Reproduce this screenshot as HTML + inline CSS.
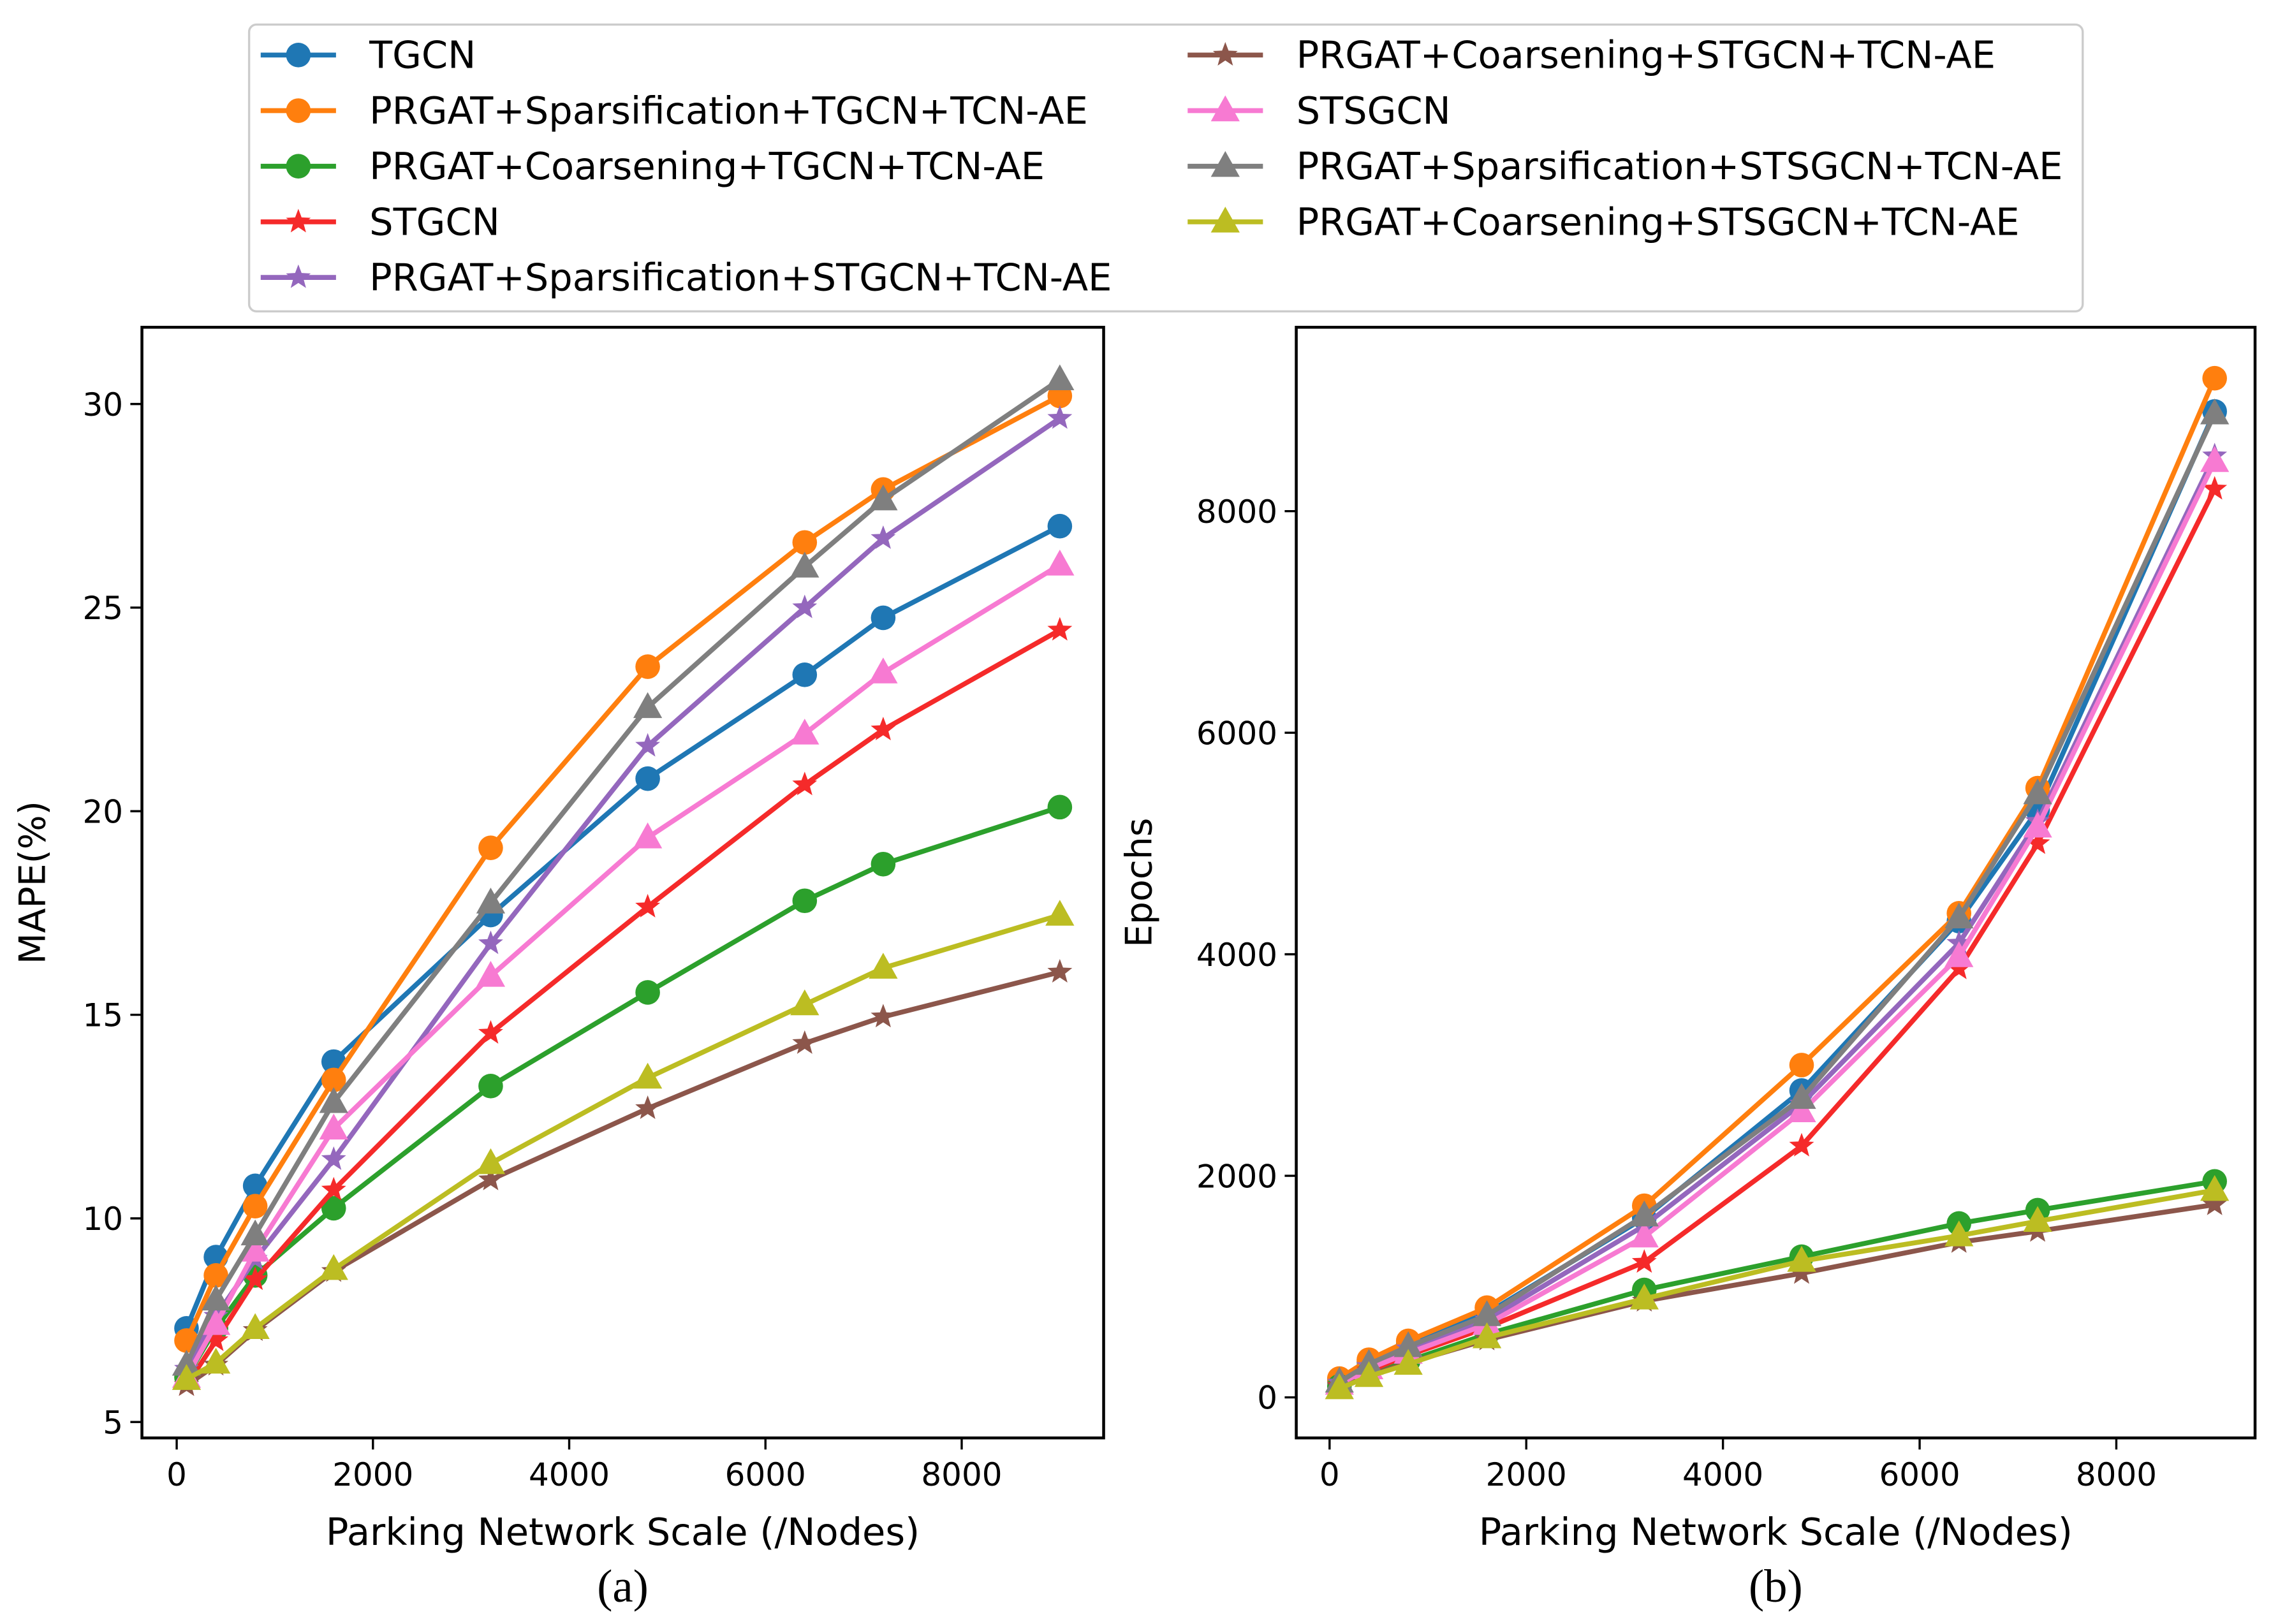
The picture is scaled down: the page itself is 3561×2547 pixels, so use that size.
<!DOCTYPE html>
<html><head><meta charset="utf-8"><style>
html,body{margin:0;padding:0;background:#fff}
svg{display:block}
text{font-family:"DejaVu Sans","Liberation Sans",sans-serif;fill:#000}
text.serif{font-family:"Liberation Serif",serif}
</style></head><body>
<svg id="chart" width="3561" height="2547" viewBox="0 0 1568 1121.5" preserveAspectRatio="none" xmlns="http://www.w3.org/2000/svg"></svg>
<script>
const xs = [100,400,800,1600,3200,4800,6400,7200,9000];
const seriesNames = ["TGCN","PRGAT+Sparsification+TGCN+TCN-AE","PRGAT+Coarsening+TGCN+TCN-AE","STGCN","PRGAT+Sparsification+STGCN+TCN-AE","PRGAT+Coarsening+STGCN+TCN-AE","STSGCN","PRGAT+Sparsification+STSGCN+TCN-AE","PRGAT+Coarsening+STSGCN+TCN-AE"];
const colors = ["#1f77b4","#ff7f0e","#2ca02c","#f52a2a","#9467bd","#8c564b","#f77ad2","#7f7f7f","#bcbd22"];
const markers = ["o","o","o","*","*","*","^","^","^"];
const mape = [
 [7.3,9.05,10.8,13.85,17.45,20.8,23.35,24.75,27.0],
 [7.0,8.6,10.3,13.4,19.1,23.55,26.6,27.9,30.2],
 [6.1,7.3,8.6,10.25,13.25,15.55,17.8,18.7,20.1],
 [5.9,7.0,8.5,10.7,14.55,17.65,20.65,22.0,24.45],
 [6.3,7.6,9.0,11.45,16.75,21.6,25.0,26.7,29.65],
 [5.9,6.4,7.25,8.7,10.95,12.7,14.3,14.95,16.05],
 [6.1,7.4,9.2,12.2,15.95,19.35,21.9,23.4,26.05],
 [6.4,8.0,9.6,12.85,17.75,22.55,26.0,27.65,30.6],
 [6.05,6.45,7.3,8.75,11.35,13.45,15.25,16.15,17.45]
];
const epochs = [
 [150,320,480,760,1620,2770,4300,5300,8900],
 [170,340,510,810,1730,3000,4370,5500,9200],
 [100,220,330,570,970,1270,1570,1690,1950],
 [100,240,380,630,1220,2270,3870,5000,8200],
 [130,280,440,700,1550,2650,4100,5200,8500],
 [90,200,310,520,870,1120,1400,1500,1740],
 [120,260,400,660,1450,2580,3980,5150,8450],
 [140,300,460,740,1640,2700,4330,5450,8880],
 [80,190,300,540,890,1230,1460,1590,1870]
];
const xTicks = [0,2000,4000,6000,8000];
const yTicksA = [5,10,15,20,25,30];
const yTicksB = [0,2000,4000,6000,8000];

const NS="http://www.w3.org/2000/svg";
const svg=document.getElementById('chart');
function mk(tag,attrs,parent){const e=document.createElementNS(NS,tag);for(const k in attrs)e.setAttribute(k,attrs[k]);(parent||svg).appendChild(e);return e;}
function txt(s,x,y,size,anchor,parent,extra){const t=mk('text',Object.assign({x:x,y:y,'font-size':size,'text-anchor':anchor||'middle'},extra||{}),parent);t.textContent=s;return t;}
function marker(g,type,x,y,c){
 let e;
 if(type==='o'){e=mk('circle',{cx:x,cy:y,r:8.5,fill:c},g);}
 else if(type==='^'){const r=10.5;e=mk('polygon',{points:`${x},${y-r} ${x+r*0.95},${y+r*0.7} ${x-r*0.95},${y+r*0.7}`,fill:c},g);}
 else {let p=[];for(let i=0;i<10;i++){const a=-Math.PI/2+i*Math.PI/5;const r=i%2?3.8:9;p.push((x+r*Math.cos(a)).toFixed(2)+','+(y+r*Math.sin(a)).toFixed(2));}e=mk('polygon',{points:p.join(' '),fill:c},g);}
 return e;
}
function panel(id,box,xmap,ymap,yTicks,data,ylabel,ylabelX,caption){
 const g=mk('g',{});
 
 
 data.forEach((vals,si)=>{
  const sg=mk('g',{},g);
  
  
  const pts=vals.map((v,i)=>xmap(xs[i]).toFixed(2)+','+ymap(v).toFixed(2)).join(' ');
  mk('polyline',{points:pts,fill:'none',stroke:colors[si],'stroke-width':3.4,'stroke-linejoin':'round'},sg);
  vals.forEach((v,i)=>{const m=marker(sg,markers[si],xmap(xs[i]),ymap(v),colors[si]);
   
   });
 });
 const frame=mk('rect',{x:box.x0,y:box.y0,width:box.x1-box.x0,height:box.y1-box.y0,fill:'none',stroke:'#000','stroke-width':2},g);
 
 
 xTicks.forEach(t=>{const x=xmap(t);mk('line',{x1:x,x2:x,y1:box.y1,y2:box.y1+8,stroke:'#000','stroke-width':1.5},g);
  const l=txt(String(t),x,box.y1+33,22,'middle',g);
  
  });
 yTicks.forEach(t=>{const y=ymap(t);mk('line',{x1:box.x0-8,x2:box.x0,y1:y,y2:y,stroke:'#000','stroke-width':1.5},g);
  const l=txt(String(t),box.x0-13,y+8,22,'end',g);
  
  });
 const xl=txt('Parking Network Scale (/Nodes)',(box.x0+box.x1)/2,1067,26,'middle',g);
 
 
 const yl=txt(ylabel,0,0,25,'middle',g,{transform:`translate(${ylabelX},${(box.y0+box.y1)/2}) rotate(-90)`});
 
 
 const cap=txt(caption,(box.x0+box.x1)/2,1106,32,'middle',g,{'class':'serif'});
 
 
}
const boxA={x0:98,x1:762,y0:226,y1:993};
panel('panel-a-mape',boxA,v=>122+v*0.06775,v=>982-(v-5)*28.12,yTicksA,mape,'MAPE(%)',31,'(a)');
const boxB={x0:895,x1:1557,y0:226,y1:993};
panel('panel-b-epochs',boxB,v=>918+v*0.0679,v=>965-v*0.0765,yTicksB,epochs,'Epochs',795,'(b)');

const lg=mk('g',{});


mk('rect',{x:172,y:17,width:1266,height:198,rx:5,fill:'#fff',stroke:'#ccc','stroke-width':1.5},lg);
seriesNames.forEach((n,i)=>{
 const col=i<5?0:1,row=i<5?i:i-5;
 const lx=col?820:180,y=38+row*38.4;
 const eg=mk('g',{},lg);
 
 
 mk('line',{x1:lx,x2:lx+52,y1:y,y2:y,stroke:colors[i],'stroke-width':3.4},eg);
 marker(eg,markers[i],lx+26,y,colors[i]);
 txt(n,lx+75,y+9,26,'start',eg);
});
</script>
</body></html>
